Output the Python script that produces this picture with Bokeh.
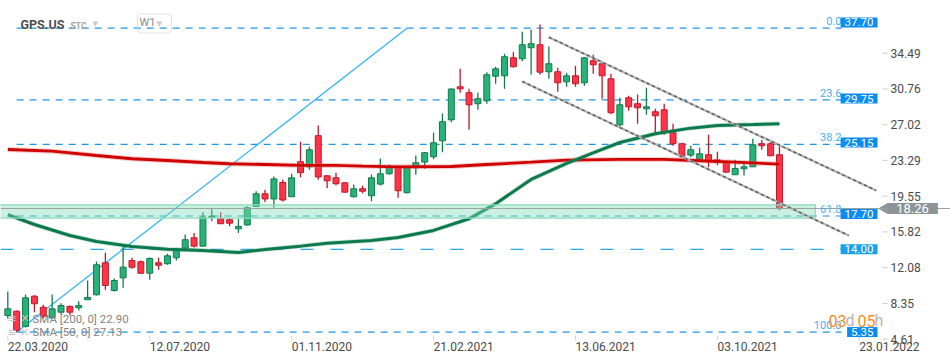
import pandas as pd
from bokeh.plotting import figure
from bokeh.models import ColumnDataSource, Label, Range1d, Span
from bokeh.embed import file_html
from bokeh.resources import INLINE

# ---------------- data ----------------
symbol = "GPS.US"
first_week = "2020-03-22"

opens = [7.08, 7.53, 5.94, 9.10, 7.95, 6.84, 7.43, 8.03, 7.89, 8.73,
         9.25, 12.59, 9.70, 11.02, 12.83, 12.70, 11.50, 12.59, 12.49, 13.11,
         14.12, 15.20, 14.33, 17.36, 17.19, 17.09, 16.14, 16.54, 18.48, 19.80,
         19.26, 20.98, 19.49, 23.15, 22.62, 25.87, 21.68, 21.47, 20.95, 19.49,
         20.32, 19.59, 20.81, 21.89, 22.58, 19.91, 22.52, 23.12, 23.67, 25.34,
         27.53, 30.98, 30.36, 29.21, 29.52, 32.09, 32.13, 34.01, 33.91, 35.06,
         35.37, 32.55, 32.55, 31.50, 32.13, 31.40, 33.70, 33.39, 31.82, 27.01,
         29.83, 29.21, 28.68, 28.37, 28.58, 26.18, 25.03, 23.84, 23.42, 23.88,
         23.35, 23.10, 21.79, 22.41, 22.62, 25.03, 25.03, 23.88]
highs = [9.59, 7.60, 9.28, 9.21, 8.20, 9.28, 8.37, 8.13, 8.58, 10.74,
         12.73, 13.64, 10.95, 14.30, 13.11, 12.83, 13.15, 13.11, 13.53, 14.16,
         15.55, 15.69, 17.88, 18.34, 17.88, 17.22, 17.19, 18.48, 20.06, 20.22,
         21.61, 21.28, 21.89, 25.25, 24.71, 26.94, 21.77, 22.00, 21.03, 20.77,
         20.64, 21.82, 23.49, 22.86, 22.76, 22.73, 23.80, 24.17, 26.19, 28.19,
         30.80, 32.86, 30.77, 30.36, 32.51, 33.07, 34.43, 34.64, 36.73, 36.94,
         37.49, 35.19, 32.97, 32.45, 33.18, 34.10, 34.33, 33.52, 32.34, 29.83,
         30.04, 30.18, 30.88, 28.68, 29.21, 27.12, 25.13, 24.82, 24.61, 25.97,
         24.19, 23.18, 23.35, 22.94, 25.55, 25.44, 25.24, 24.82]
lows = [6.77, 5.35, 5.83, 7.43, 6.77, 6.77, 7.26, 7.09, 7.61, 8.70,
        9.18, 9.77, 9.59, 9.98, 11.96, 11.42, 10.82, 11.86, 12.38, 12.83,
        14.09, 14.19, 14.30, 16.94, 16.65, 16.42, 15.71, 16.49, 18.45, 18.92,
        18.34, 19.00, 19.47, 21.54, 22.31, 21.27, 20.39, 20.70, 19.94, 19.41,
        19.86, 19.03, 20.67, 21.82, 19.38, 19.83, 21.79, 22.41, 23.42, 24.15,
        27.28, 30.36, 26.49, 28.58, 29.21, 31.30, 30.77, 33.00, 33.66, 32.24,
        32.24, 31.82, 30.46, 30.98, 30.98, 31.09, 32.34, 29.73, 28.12, 26.76,
        28.47, 27.12, 28.06, 26.07, 25.97, 24.82, 23.70, 23.63, 23.39, 22.58,
        22.79, 22.03, 21.77, 21.71, 22.60, 24.40, 23.75, 18.06]
closes = [7.78, 5.52, 8.93, 8.31, 7.01, 7.78, 8.13, 7.43, 8.13, 8.97,
          12.38, 10.22, 10.74, 12.13, 12.13, 11.50, 13.04, 12.34, 13.32, 13.98,
          15.00, 14.33, 17.36, 17.46, 16.67, 16.73, 16.39, 18.34, 19.80, 19.26,
          21.35, 19.15, 21.47, 22.01, 24.40, 21.56, 21.16, 20.85, 19.97, 20.32,
          20.07, 21.47, 21.89, 22.52, 20.12, 22.52, 23.04, 24.09, 25.13, 27.33,
          30.75, 30.77, 29.10, 29.73, 32.24, 32.86, 34.12, 33.07, 35.37, 35.48,
          32.51, 33.39, 31.40, 32.13, 31.30, 34.01, 33.28, 32.13, 28.27, 29.10,
          28.89, 28.79, 28.89, 27.95, 26.28, 25.03, 23.73, 24.40, 23.98, 23.21,
          23.10, 22.06, 22.45, 22.62, 24.92, 24.82, 23.77, 18.26]

sma200_weeks = [0, 5, 10, 14, 18, 22, 25, 29, 33, 37, 40, 44, 50, 54, 59, 63, 69, 74, 78, 82, 87]
sma200_vals = [24.43, 24.25, 23.80, 23.46, 23.28, 23.07, 22.94, 22.86, 22.76, 22.76, 22.69,
               22.62, 22.65, 22.86, 23.10, 23.31, 23.39, 23.39, 23.25, 23.10, 22.90]
sma50_weeks = [0, 3, 7, 10, 14, 18, 22, 26, 29, 33, 36, 41, 44, 48, 52, 55, 59, 63, 67, 69, 73, 77, 80, 84, 87]
sma50_vals = [17.61, 16.59, 15.44, 14.82, 14.30, 14.01, 13.88, 13.67, 13.98, 14.33, 14.64, 14.92,
              15.24, 15.97, 17.19, 18.76, 21.30, 22.97, 24.45, 25.16, 26.07, 26.66, 26.94, 27.04, 27.13]

fib_anchor_weeks = [1, 45]
fib_anchor_prices = [5.35, 37.10]
fib_names = ["0.0", "23.6", "38.2", "61.8", "100.0"]
fib_levels = [37.10, 29.61, 24.97, 17.48, 5.35]
fib_end_week = 94.0

hline_level = 14.00
box_prices = [37.70, 29.75, 25.15, 17.70, 5.35]
box_texts = ["37.70", "29.75", "25.15", "17.70", "5.35"]

zone_weeks = [-1.0, 91.06]
zone_prices = [17.25, 18.65]

channel_upper_weeks = [61.0, 97.9]
channel_upper_prices = [36.16, 20.15]
channel_lower_weeks = [58.0, 94.8]
channel_lower_prices = [31.54, 15.44]

y_ticks = [34.49, 30.76, 27.02, 23.29, 19.55, 15.82, 12.08, 8.35, 4.61]
x_tick_dates = ["2020-03-22", "2020-07-12", "2020-11-01", "2021-02-21",
                "2021-06-13", "2021-10-03", "2022-01-23"]

sma_labels = ["SMA [200,  0]  22.90", "SMA [50,  0]  27.13"]

# ---------------- helpers (layout only) ----------------
DAY = 86400000
WEEK = 7 * DAY
base = pd.Timestamp(first_week).value // 10**6
W, H = 950, 364


def wk(w):
    return base + w * WEEK


def wx(rx):          # reference pixel x -> data x
    return wk((rx - 7.3) / 8.87)


def py(ry):          # reference pixel y -> price
    return 39.997 - ry / 9.57


def sx(rx):          # reference pixel x -> frame screen x
    return rx


def sy(ry):          # reference pixel y -> frame screen y (from bottom)
    return H - ry


FONT = "Roboto"

p = figure(width=W, height=H, x_axis_type="datetime",
           x_axis_location=None, y_axis_location=None,
           toolbar_location=None, output_backend="svg",
           x_range=Range1d(wx(0), wx(W)), y_range=Range1d(py(H), py(0)),
           min_border=0, min_border_left=0, min_border_right=0,
           min_border_top=0, min_border_bottom=0)
p.outline_line_color = None
p.xgrid.visible = False
p.ygrid.visible = False
p.background_fill_color = "white"
p.border_fill_color = "white"

# --- fib lines & 14.00 line ---
for lvl in fib_levels:
    p.segment(x0=[wk(fib_anchor_weeks[0])], y0=[lvl], x1=[wk(fib_end_week)], y1=[lvl],
              line_color="#1e96e6", line_width=1.2, line_dash="7 6")
p.segment(x0=[wx(0)], y0=[hline_level], x1=[wk(fib_end_week)], y1=[hline_level],
          line_color="#2aa6ef", line_width=1.3, line_dash="13 17")

# diagonal of fib tool
p.line([wk(w) for w in fib_anchor_weeks], fib_anchor_prices, line_color="#35b4f4", line_width=1.3)

# --- candles ---
inc_fill, inc_line = "#27b377", "#137a4c"
dec_fill, dec_line = "#ff3448", "#c0182b"
up = [c >= o for o, c in zip(opens, closes)]
src = ColumnDataSource(dict(
    x=[wk(i) for i in range(len(opens))],
    h=highs, l=lows,
    top=[max(o, c) for o, c in zip(opens, closes)],
    bot=[min(o, c) for o, c in zip(opens, closes)],
    fill=[inc_fill if u else dec_fill for u in up],
    line=[inc_line if u else dec_line for u in up],
))
p.segment(x0="x", y0="h", x1="x", y1="l", line_color="line", line_width=1.3, source=src)
p.vbar(x="x", width=4.7 * DAY, top="top", bottom="bot", fill_color="fill",
       line_color="line", line_width=1, source=src)

# --- SMA lines ---
s200x = [wk(w) for w in sma200_weeks]
p.line(s200x, sma200_vals, line_color="#e46a6a", line_width=5, line_alpha=0.35)
p.line(s200x, sma200_vals, line_color="#cf0000", line_width=2.8)
s50x = [wk(w) for w in sma50_weeks]
p.line(s50x, sma50_vals, line_color="#3a9a6e", line_width=4.5, line_alpha=0.3)
p.line(s50x, sma50_vals, line_color="#0c7a4c", line_width=3)

# --- green zone (on top) ---
p.quad(left=[wk(zone_weeks[0])], right=[wk(zone_weeks[1])],
       bottom=[zone_prices[0]], top=[zone_prices[1]],
       fill_color="#7fdcb5", fill_alpha=0.42, line_color="#8edcbd", line_width=1.2)

# current price line
p.add_layout(Span(location=closes[-1], dimension="width", line_color="#9aa3a0", line_width=1))

# --- channel lines ---
for wks, prs in ((channel_upper_weeks, channel_upper_prices), (channel_lower_weeks, channel_lower_prices)):
    xs = [wk(w) for w in wks]
    p.line(xs, prs, line_color="#b4b4b4", line_width=2.2)
    p.line(xs, prs, line_color="#626262", line_width=1.6, line_dash="3 3")

# --- fib labels ---
for name, lvl in zip(fib_names, fib_levels):
    p.add_layout(Label(x=sx(841), y=lvl, x_units="screen", text=name, text_align="right",
                       text_baseline="bottom", y_offset=3, text_font=FONT,
                       text_font_size="11px", text_color="#49b0f3"))

# --- price boxes ---
for pr, t in zip(box_prices, box_texts):
    p.add_layout(Label(x=sx(877), y=pr, x_units="screen", text=t, text_align="right",
                       text_baseline="middle", text_font=FONT, text_font_size="11.5px",
                       text_color="white", background_fill_color="#0b8cf2",
                       padding=(4, 1)))
p.add_layout(Label(x=sx(877), y=hline_level, x_units="screen", text=f"{hline_level:.2f}",
                   text_align="right", text_baseline="middle", text_font=FONT,
                   text_font_size="11.5px", text_color="white",
                   background_fill_color="#18a2ec", padding=(4, 1)))

# --- right axis tick labels ---
for t in y_ticks:
    p.segment(x0=[wx(882)], y0=[t], x1=[wx(887)], y1=[t], line_color="#cccccc", line_width=1)
    p.add_layout(Label(x=sx(890), y=t, x_units="screen", text=f"{t:.2f}", text_align="left",
                       text_baseline="middle", text_font=FONT, text_font_size="12px",
                       text_color="#4a4a4a"))

# current price marker
p.scatter(x=[wx(884)], y=[closes[-1]], marker="triangle", angle=1.5708, size=11,
          fill_color="#8b9499", line_color=None)
p.add_layout(Label(x=sx(912), y=closes[-1], x_units="screen", text=f"{closes[-1]:.2f}",
                   text_align="center", text_baseline="middle", text_font=FONT,
                   text_font_size="13px", text_color="white",
                   background_fill_color="#8b9499", padding=(9, 1)))

# --- date axis ---
for d in x_tick_dates:
    ts = pd.Timestamp(d)
    xv = ts.value // 10**6
    p.segment(x0=[xv], y0=[py(335)], x1=[xv], y1=[py(340)], line_color="#d5d5d5", line_width=1)
    p.add_layout(Label(x=xv, y=sy(346), y_units="screen", text=ts.strftime("%d.%m.%Y"),
                       text_align="left", text_baseline="middle", text_font=FONT,
                       text_font_size="12px", text_color="#4a4a4a"))

# --- header ---
p.add_layout(Label(x=sx(20), y=sy(24), x_units="screen", y_units="screen", text=symbol,
                   text_baseline="middle", text_font=FONT, text_font_size="12.5px",
                   text_font_style="bold", text_color="#4e4e4e"))
p.add_layout(Label(x=sx(70), y=sy(25), x_units="screen", y_units="screen", text="STC",
                   text_baseline="middle", text_font=FONT, text_font_size="8.5px",
                   text_font_style="bold", text_color="#a0a0a0"))
p.add_layout(Label(x=sx(92), y=sy(23), x_units="screen", y_units="screen", text="▼",
                   text_baseline="middle", text_font="DejaVu Sans", text_font_size="7px",
                   text_color="#c8c8c8"))
p.add_layout(Label(x=sx(137), y=sy(23), x_units="screen", y_units="screen", text="W1",
                   text_baseline="middle", text_font=FONT, text_font_size="11px",
                   text_color="#8a8a8a", border_line_color="#e2e2e2", border_radius=3,
                   padding=(2, 16, 2, 4)))
p.add_layout(Label(x=sx(156), y=sy(23), x_units="screen", y_units="screen", text="▼",
                   text_baseline="middle", text_font="DejaVu Sans", text_font_size="7px",
                   text_color="#c8c8c8"))

# --- SMA legend ---
for i, t in enumerate(sma_labels):
    yy = 318 + i * 13.5
    p.add_layout(Label(x=sx(7), y=sy(yy), x_units="screen", y_units="screen", text="≡ ✕",
                       text_baseline="middle", text_font="DejaVu Sans", text_font_size="11px",
                       text_color="#c4c4c4"))
    p.add_layout(Label(x=sx(32), y=sy(yy), x_units="screen", y_units="screen", text=t,
                       text_baseline="middle", text_font=FONT, text_font_size="11.5px",
                       text_color="#858585"))

# --- countdown ---
parts = [("03", "#ff8a1c", 828), ("d", "#b5b5b5", 845), ("05", "#ff8a1c", 857), ("h", "#b5b5b5", 874)]
for t, col, rx in parts:
    p.add_layout(Label(x=sx(rx), y=sy(320), x_units="screen", y_units="screen", text=t,
                       text_baseline="middle", text_font=FONT, text_font_size="16px",
                       text_color=col))

open("out.html", "w").write(file_html(p, INLINE))
